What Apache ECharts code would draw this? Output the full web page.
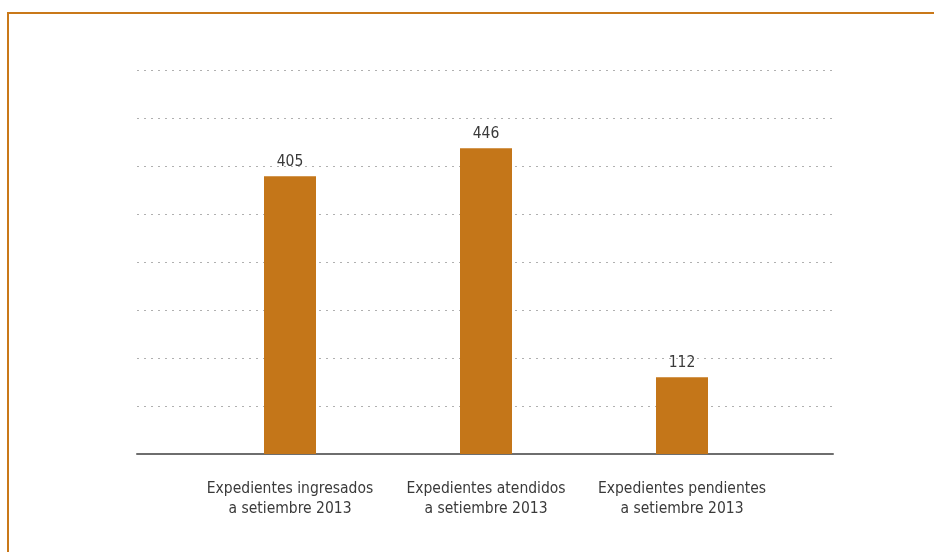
<!DOCTYPE html>
<html>
<head>
<meta charset="utf-8">
<script src="https://cdn.jsdelivr.net/npm/echarts@6/dist/echarts.min.js"></script>
<style>
  html, body { margin: 0; padding: 0; background: #ffffff; }
  #chart { width: 934px; height: 552px; }
</style>
</head>
<body>
<div id="chart"></div>
<script>
// Expedientes a setiembre 2013
const categories = [
  'Expedientes ingresados\na setiembre 2013',
  'Expedientes atendidos\na setiembre 2013',
  'Expedientes pendientes\na setiembre 2013'
];
const values = [405, 446, 112];

// value axis range (gridlines only, no tick labels)
const axisMin = 0;
const axisMax = 560;
const axisStep = 70;

const FONT = '"Liberation Sans Narrow", "DejaVu Sans Condensed", "Noto Sans", sans-serif';
const BAR = '#C47619';
const FRAME = '#C97819';

const chart = echarts.init(document.getElementById('chart'), null, { renderer: 'canvas' });

chart.setOption({
  backgroundColor: '#ffffff',
  animation: false,
  textStyle: { fontFamily: FONT },
  grid: [
    // wide frame: dotted gridlines and baseline
    { left: 137, right: 101, top: 70, bottom: 98, containLabel: false },
    // narrower band holding the bars
    { left: 192, width: 588, top: 70, bottom: 98, containLabel: false }
  ],
  xAxis: [
    {
      gridIndex: 0, type: 'category', data: categories,
      axisLine: { show: true, lineStyle: { color: '#6e6e6e', width: 2 } },
      axisTick: { show: false }, axisLabel: { show: false }, splitLine: { show: false }
    },
    {
      gridIndex: 1, type: 'category', data: categories,
      axisLine: { show: false }, axisTick: { show: false },
      axisLabel: {
        show: true, color: '#3a3a3a', fontFamily: FONT, fontSize: 15.5,
        lineHeight: 20, margin: 25, interval: 0
      }
    }
  ],
  yAxis: [
    {
      gridIndex: 0, type: 'value', min: axisMin, max: axisMax, interval: axisStep,
      axisLine: { show: false }, axisTick: { show: false }, axisLabel: { show: false },
      splitLine: { show: true, lineStyle: { color: '#b0b0b0', width: 1, type: [2, 5] } }
    },
    {
      gridIndex: 1, type: 'value', min: axisMin, max: axisMax, interval: axisStep,
      axisLine: { show: false }, axisTick: { show: false }, axisLabel: { show: false },
      splitLine: { show: false }
    }
  ],
  series: [
    {
      type: 'bar', xAxisIndex: 1, yAxisIndex: 1, data: values,
      barWidth: 52,
      itemStyle: { color: BAR },
      label: {
        show: true, position: 'top', distance: 6,
        color: '#3a3a3a', fontFamily: FONT, fontSize: 15.5
      },
      z: 3
    }
  ],
  graphic: [
    { type: 'line', shape: { x1: 8, y1: 13, x2: 934, y2: 13 }, style: { stroke: FRAME, lineWidth: 2 } },
    { type: 'line', shape: { x1: 8, y1: 12, x2: 8, y2: 552 }, style: { stroke: FRAME, lineWidth: 2 } }
  ]
});
</script>
</body>
</html>
